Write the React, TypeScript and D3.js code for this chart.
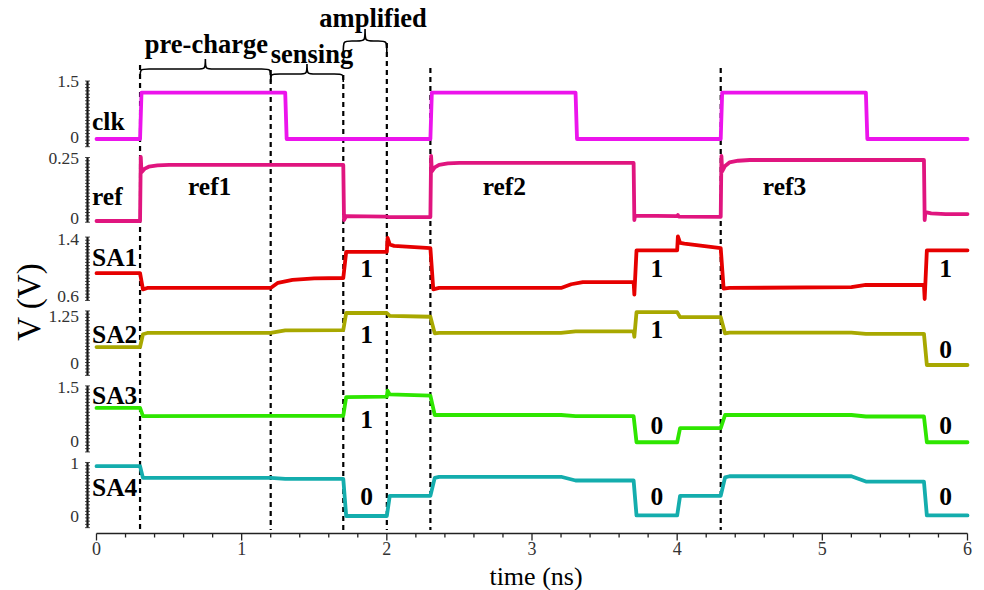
import React from "react";
import * as d3 from "d3";

type Pt = [number, number];

// ---- data ----
const timeTicks = [0, 1, 2, 3, 4, 5, 6];
const phaseMarks = [0.3, 1.2, 1.7, 2.0, 2.3, 4.3];
const phaseMarkTops = [65, 70, 75, 43, 68, 68];

const phaseNames = ["pre-charge", "sensing", "amplified"];
const phaseStart = [0.3, 1.2, 1.7];
const phaseEnd = [1.2, 1.7, 2.0];

const clkWave: Pt[] = [
  [0, 0], [0.3, 0], [0.31, 1.2], [1.3, 1.2], [1.31, 0], [2.3, 0], [2.31, 1.2],
  [3.3, 1.2], [3.31, 0], [4.3, 0], [4.31, 1.2], [5.3, 1.2], [5.31, 0], [6, 0],
];

const refWave: Pt[] = [
  [0, 0], [0.3, 0], [0.305, 0.258], [0.31, 0.196], [0.33, 0.21], [0.36, 0.219],
  [0.42, 0.224], [0.5, 0.226], [1.7, 0.226], [1.705, 0.004], [1.72, 0.02],
  [2.0, 0.018], [2.01, 0.016], [2.3, 0.016], [2.305, 0.262], [2.31, 0.2],
  [2.33, 0.216], [2.36, 0.226], [2.42, 0.232], [2.5, 0.234], [3.7, 0.234],
  [3.705, 0.004], [3.71, 0.022], [4.0, 0.02], [4.005, 0.024], [4.01, 0.018],
  [4.3, 0.017], [4.305, 0.262], [4.31, 0.2], [4.33, 0.222], [4.36, 0.236],
  [4.42, 0.243], [4.5, 0.246], [5.7, 0.246], [5.705, 0.004], [5.71, 0.036],
  [5.75, 0.031], [5.85, 0.028], [6, 0.028],
];

const sa1Wave: Pt[] = [
  [0, 0.95], [0.3, 0.95], [0.32, 0.73], [0.35, 0.75], [1.2, 0.75], [1.25, 0.82],
  [1.35, 0.86], [1.5, 0.88], [1.7, 0.885], [1.72, 1.24], [2.0, 1.24], [2.005, 1.43],
  [2.02, 1.34], [2.05, 1.32], [2.3, 1.29], [2.32, 0.73], [2.36, 0.75], [3.2, 0.75],
  [3.27, 0.8], [3.35, 0.83], [3.7, 0.83], [3.705, 0.66], [3.72, 1.26], [4.0, 1.26],
  [4.005, 1.45], [4.02, 1.36], [4.05, 1.35], [4.3, 1.29], [4.32, 0.74], [4.36, 0.75],
  [5.2, 0.76], [5.3, 0.79], [5.7, 0.79], [5.705, 0.6], [5.72, 1.26], [6, 1.26],
];

const sa2Wave: Pt[] = [
  [0, 0.43], [0.3, 0.43], [0.32, 0.74], [0.35, 0.77], [1.2, 0.77], [1.3, 0.83],
  [1.7, 0.84], [1.72, 1.25], [2.0, 1.25], [2.02, 1.18], [2.3, 1.16], [2.33, 0.76],
  [2.36, 0.77], [3.2, 0.77], [3.3, 0.81], [3.7, 0.81], [3.705, 0.68], [3.72, 1.27],
  [4.0, 1.27], [4.02, 1.15], [4.3, 1.15], [4.33, 0.76], [4.36, 0.78], [5.2, 0.78],
  [5.3, 0.75], [5.7, 0.75], [5.72, 0.0], [6, 0.0],
];

const sa3Wave: Pt[] = [
  [0, 0.94], [0.3, 0.94], [0.32, 0.72], [1.7, 0.73], [1.72, 1.23], [2.0, 1.24],
  [2.005, 1.4], [2.02, 1.3], [2.3, 1.27], [2.33, 0.75], [3.2, 0.75], [3.3, 0.72],
  [3.7, 0.72], [3.72, 0.02], [4.0, 0.02], [4.02, 0.4], [4.3, 0.4], [4.33, 0.75],
  [5.2, 0.75], [5.3, 0.71], [5.7, 0.71], [5.72, 0.02], [6, 0.02],
];

const sa4Wave: Pt[] = [
  [0, 0.94], [0.3, 0.94], [0.32, 0.72], [1.2, 0.72], [1.3, 0.7], [1.7, 0.7],
  [1.72, 0.0], [2.0, 0.0], [2.02, 0.38], [2.3, 0.38], [2.33, 0.72], [2.36, 0.74],
  [3.2, 0.74], [3.3, 0.67], [3.7, 0.67], [3.72, 0.01], [4.0, 0.01], [4.02, 0.38],
  [4.3, 0.38], [4.33, 0.73], [4.36, 0.75], [5.2, 0.75], [5.3, 0.65], [5.7, 0.65],
  [5.72, 0.01], [6, 0.01],
];

const refNames = ["ref1", "ref2", "ref3"];
const refNameTimes = [0.63, 2.66, 4.59];

const bitTimes = [1.86, 3.86, 5.85];
const sa1Bits = ["1", "1", "1"];
const sa2Bits = ["1", "1", "0"];
const sa3Bits = ["1", "0", "0"];
const sa4Bits = ["0", "0", "0"];

// ---- layout ----
const W = 984;
const H = 590;
const SERIF = "'Liberation Serif', 'Times New Roman', serif";

const x = d3.scaleLinear().domain([0, 6]).range([96.5, 967.5]);

type Panel = {
  name: string;
  color: string;
  wave: Pt[];
  domain: [number, number];
  range: [number, number];
  bar: [number, number];
  ticks: [string, string];
  tickShift: [number, number];
  nameY: number;
  bits?: string[];
  bitY?: number[];
};

const panels: Panel[] = [
  { name: "clk", color: "#ec14ec", wave: clkWave, domain: [0, 1.5], range: [139, 81],
    bar: [-0.2, 1.5], ticks: ["0", "1.5"], tickShift: [-2, 0], nameY: 130 },
  { name: "ref", color: "#e0157f", wave: refWave, domain: [0, 0.25], range: [221, 159],
    bar: [-0.005, 0.256], ticks: ["0", "0.25"], tickShift: [-3, -1], nameY: 205 },
  { name: "SA1", color: "#e60000", wave: sa1Wave, domain: [0.6, 1.4], range: [299, 240],
    bar: [0.58, 1.44], ticks: ["0.6", "1.4"], tickShift: [-3, -1], nameY: 266,
    bits: sa1Bits, bitY: [277, 277, 277] },
  { name: "SA2", color: "#a8a800", wave: sa2Wave, domain: [0, 1.25], range: [365, 313],
    bar: [-0.25, 1.3], ticks: ["0", "1.25"], tickShift: [-2, 3], nameY: 343,
    bits: sa2Bits, bitY: [343, 338, 358] },
  { name: "SA3", color: "#2ee600", wave: sa3Wave, domain: [0, 1.5], range: [443, 387],
    bar: [-0.24, 1.53], ticks: ["0", "1.5"], tickShift: [-2, 0], nameY: 404,
    bits: sa3Bits, bitY: [428, 434, 434] },
  { name: "SA4", color: "#14adad", wave: sa4Wave, domain: [0, 1], range: [516, 463],
    bar: [-0.22, 1.01], ticks: ["0", "1"], tickShift: [0, 0], nameY: 496,
    bits: sa4Bits, bitY: [505, 505, 505] },
];

const braceY = [
  { end: 79, flat: 69, tip: 59 },
  { end: 82, flat: 74, tip: 64 },
  { end: 53, flat: 41, tip: 29 },
];
const braceTextY = [53, 63, 27];
const braceTextDx = [1, 5, 8];

function bracePath(x1: number, x2: number, yEnd: number, yFlat: number, yTip: number) {
  const xm = (x1 + x2) / 2;
  const r = Math.min(9, (x2 - x1) / 5);
  return [
    `M${x1},${yEnd}`,
    `C${x1},${yFlat} ${x1},${yFlat} ${x1 + r},${yFlat}`,
    `L${xm - r},${yFlat}`,
    `C${xm},${yFlat} ${xm},${yFlat} ${xm},${yTip}`,
    `C${xm},${yFlat} ${xm},${yFlat} ${xm + r},${yFlat}`,
    `L${x2 - r},${yFlat}`,
    `C${x2},${yFlat} ${x2},${yFlat} ${x2},${yEnd}`,
  ].join(" ");
}

function PanelView({ p }: { p: Panel }) {
  const y = d3.scaleLinear().domain(p.domain).range(p.range);
  const line = d3.line<Pt>().x((d) => x(d[0])).y((d) => y(d[1])).curve(d3.curveLinear);
  const barTop = y(p.bar[1]);
  const barBot = y(p.bar[0]);
  const nMinor = 20;
  const minor = d3.range(nMinor + 1).map((i) => barTop + ((barBot - barTop) * i) / nMinor);
  return (
    <g>
      <line x1={87.5} x2={87.5} y1={barTop} y2={barBot} stroke="#111" strokeWidth={2.2} />
      {minor.map((yy, i) => (
        <line key={i} x1={85} x2={90} y1={yy} y2={yy} stroke="#222" strokeWidth={0.8} />
      ))}
      <text x={79} y={y(p.domain[0]) + p.tickShift[0]} dy="0.35em" textAnchor="end"
        fontFamily={SERIF} fontSize={17.5} fill="#333">{p.ticks[0]}</text>
      <text x={79} y={y(p.domain[1]) + p.tickShift[1]} dy="0.35em" textAnchor="end"
        fontFamily={SERIF} fontSize={17.5} fill="#333">{p.ticks[1]}</text>
      <path d={line(p.wave) || ""} fill="none" stroke={p.color} strokeWidth={3.8}
        strokeLinejoin="round" strokeLinecap="round" />
      <text x={92} y={p.nameY} fontFamily={SERIF} fontWeight="bold" fontSize={25.5} fill="#000">
        {p.name}
      </text>
      {p.bits && p.bits.map((b, i) => (
        <text key={i} x={x(bitTimes[i])} y={p.bitY![i]} textAnchor="middle" fontFamily={SERIF}
          fontWeight="bold" fontSize={25.5} fill="#000">{b}</text>
      ))}
    </g>
  );
}

export default function App() {
  const minorTimes = d3.range(0, 31).map((i) => i * 0.2);
  const axisY = 533.5;
  return (
    <svg width={W} height={H} viewBox={`0 0 ${W} ${H}`}
      style={{ position: "absolute", left: 0, top: 0, background: "#fff", display: "block" }}>
      <rect width={W} height={H} fill="#fff" />

      {/* phase boundaries */}
      {phaseMarks.map((t, i) => (
        <line key={i} x1={x(t)} x2={x(t)} y1={phaseMarkTops[i]} y2={530} stroke="#000"
          strokeWidth={2.2} strokeDasharray="5,4" />
      ))}

      {panels.map((p) => <PanelView key={p.name} p={p} />)}

      {refNames.map((n, i) => (
        <text key={n} x={x(refNameTimes[i])} y={195} fontFamily={SERIF} fontWeight="bold"
          fontSize={25.5} fill="#000">{n}</text>
      ))}

      {/* phase braces */}
      {phaseNames.map((n, i) => {
        const x1 = x(phaseStart[i]);
        const x2 = x(phaseEnd[i]);
        const b = braceY[i];
        return (
          <g key={n}>
            <path d={bracePath(x1, x2, b.end, b.flat, b.tip)} fill="none" stroke="#000"
              strokeWidth={1.6} />
            <text x={(x1 + x2) / 2 + braceTextDx[i]} y={braceTextY[i]}
              textAnchor="middle" fontFamily={SERIF} fontWeight="bold" fontSize={26.5}
              fill="#000">{n}</text>
          </g>
        );
      })}

      {/* time axis */}
      <line x1={x(0)} x2={x(6)} y1={axisY} y2={axisY} stroke="#222" strokeWidth={1.5} />
      {minorTimes.map((t, i) => (
        <line key={i} x1={x(t)} x2={x(t)} y1={axisY} y2={axisY + (i % 5 === 0 ? 7 : 4)}
          stroke="#222" strokeWidth={1.3} />
      ))}
      {timeTicks.map((t) => (
        <text key={t} x={x(t)} y={555} textAnchor="middle" fontFamily={SERIF} fontSize={18}
          fill="#333">{t}</text>
      ))}
      <text x={536} y={585} textAnchor="middle" fontFamily={SERIF} fontSize={26} fill="#000">
        time (ns)
      </text>
      <text transform="translate(40,302) rotate(-90)" textAnchor="middle" fontFamily={SERIF}
        fontSize={33} fill="#000">V (V)</text>
    </svg>
  );
}
